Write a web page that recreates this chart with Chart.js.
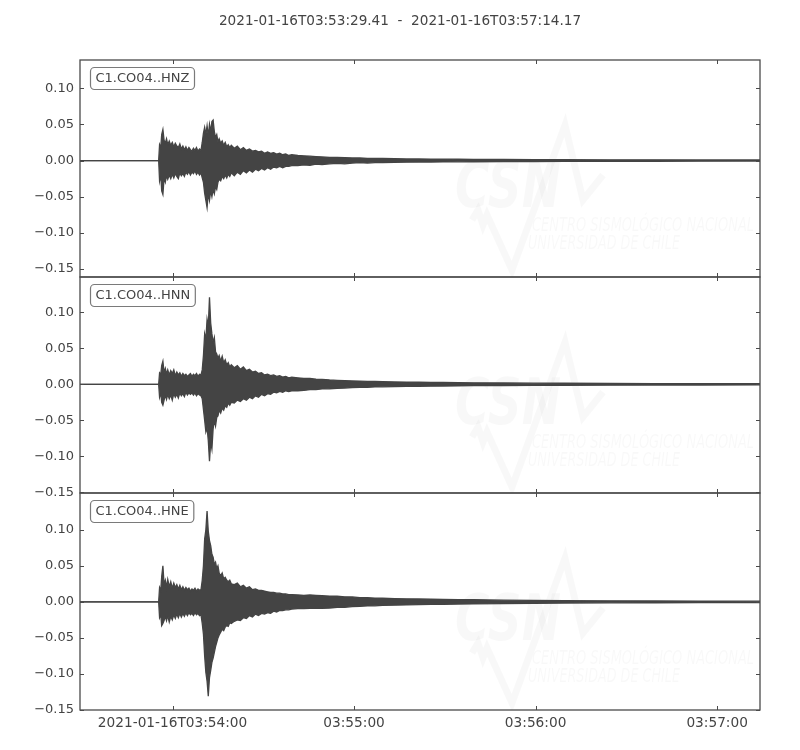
<!DOCTYPE html>
<html>
<head>
<meta charset="utf-8">
<script src="https://cdn.jsdelivr.net/npm/chart.js@4.4.1/dist/chart.umd.min.js"></script>
<style>
  html, body { margin: 0; padding: 0; background: #fff; }
  #wrap { position: relative; width: 800px; height: 750px; }
  #wrap canvas { position: absolute; left: 0; top: 0; }
</style>
</head>
<body>
<div id="wrap">
  <canvas id="c0" width="800" height="750"></canvas>
  <canvas id="c1" width="800" height="750"></canvas>
  <canvas id="c2" width="800" height="750"></canvas>
</div>
<script>
// ---- Data ----
const titleText = '2021-01-16T03:53:29.41  -  2021-01-16T03:57:14.17';
const channelLabels = ['C1.CO04..HNZ', 'C1.CO04..HNN', 'C1.CO04..HNE'];
const traceDuration = 224.76; // seconds after 03:53:29.41

// seconds after the start time
const times = [0,
  26.0, 26.3, 26.7, 27.0, 27.4, 27.8, 28.2, 28.6, 29.0, 29.5, 30.0, 30.5, 31.0, 31.5, 32.0, 32.5, 33.0, 33.5, 34.0, 34.5, 35.0, 35.5, 36.0, 36.5, 37.0, 37.5, 38.0, 38.5, 39.0, 39.5, 40.0,
  40.4, 40.8, 41.2, 41.6, 42.0, 42.4, 42.8, 43.2, 43.6, 44.0, 44.4, 44.8, 45.2, 45.6, 46.0,
  46.5, 47.0, 47.5, 48.0, 48.5, 49.0, 49.5, 50.0,
  51, 52, 53, 54, 55, 56, 57, 58, 59, 60, 61, 62, 63, 64, 65, 66, 67, 68, 69, 70,
  72, 74, 76, 78, 80, 82.5, 85, 87.5, 90, 92.5, 95, 97.5, 100,
  104, 108, 112, 116, 120, 125, 130, 140, 150, 160, 175, 190, 205, 224.76];

// envelope maxima / minima of each trace (same layout as times)
const hnzUpper = [0,
  0, 0.022, 0.018, 0.036, 0.043, 0.028, 0.024, 0.030, 0.022, 0.027, 0.021, 0.025, 0.019, 0.024, 0.020, 0.018, 0.023, 0.016, 0.020, 0.015, 0.019, 0.014, 0.018, 0.015, 0.013, 0.017, 0.014, 0.018, 0.013, 0.016, 0.014,
  0.025, 0.038, 0.046, 0.036, 0.048, 0.034, 0.050, 0.040, 0.054, 0.056, 0.040, 0.032, 0.036, 0.026, 0.030,
  0.024, 0.027, 0.021, 0.025, 0.019, 0.022, 0.018, 0.021,
  0.017, 0.020, 0.015, 0.018, 0.014, 0.016, 0.013, 0.014, 0.012, 0.013, 0.010, 0.012, 0.010, 0.011, 0.009, 0.010, 0.008, 0.009, 0.007, 0.008,
  0.007, 0.0065, 0.006, 0.0055, 0.005, 0.0045, 0.0045, 0.004, 0.0035, 0.0035, 0.003, 0.003, 0.0028,
  0.0025, 0.0023, 0.0022, 0.002, 0.002, 0.0018, 0.0017, 0.0015, 0.0013, 0.0012, 0.001, 0.001, 0.0009, 0.0008];
const hnzLower = [0,
  0, -0.028, -0.020, -0.042, -0.047, -0.024, -0.030, -0.021, -0.026, -0.020, -0.025, -0.019, -0.024, -0.018, -0.022, -0.025, -0.017, -0.021, -0.018, -0.022, -0.016, -0.019, -0.015, -0.020, -0.016, -0.018, -0.014, -0.019, -0.016, -0.020, -0.017,
  -0.024, -0.030, -0.045, -0.055, -0.065, -0.045, -0.055, -0.042, -0.050, -0.040, -0.046, -0.036, -0.040, -0.030, -0.026,
  -0.028, -0.022, -0.025, -0.020, -0.024, -0.019, -0.022, -0.017,
  -0.021, -0.016, -0.019, -0.014, -0.017, -0.013, -0.016, -0.012, -0.014, -0.011, -0.013, -0.010, -0.012, -0.009, -0.010, -0.008, -0.010, -0.008, -0.008, -0.007,
  -0.007, -0.006, -0.0065, -0.005, -0.0055, -0.0045, -0.004, -0.0045, -0.0035, -0.003, -0.0035, -0.0028, -0.003,
  -0.0025, -0.0023, -0.002, -0.0021, -0.0019, -0.0018, -0.0017, -0.0015, -0.0013, -0.0012, -0.001, -0.001, -0.0009, -0.0008];

const hnnUpper = [0,
  0, 0.016, 0.014, 0.026, 0.032, 0.016, 0.022, 0.014, 0.020, 0.013, 0.019, 0.015, 0.020, 0.012, 0.017, 0.013, 0.016, 0.011, 0.015, 0.012, 0.014, 0.011, 0.013, 0.015, 0.011, 0.014, 0.012, 0.015, 0.011, 0.014, 0.013,
  0.020, 0.040, 0.070, 0.062, 0.090, 0.080, 0.121, 0.085, 0.070, 0.058, 0.065, 0.045, 0.042, 0.036, 0.040,
  0.032, 0.039, 0.030, 0.034, 0.027, 0.030, 0.024, 0.027,
  0.023, 0.026, 0.021, 0.024, 0.019, 0.021, 0.017, 0.018, 0.015, 0.016, 0.013, 0.014, 0.012, 0.013, 0.011, 0.012, 0.010, 0.011, 0.009, 0.010,
  0.009, 0.008, 0.008, 0.007, 0.0068, 0.006, 0.0055, 0.005, 0.0047, 0.0045, 0.004, 0.0039, 0.0036,
  0.0033, 0.003, 0.0028, 0.0026, 0.0025, 0.0023, 0.002, 0.0018, 0.0016, 0.0014, 0.0012, 0.001, 0.001, 0.0009];
const hnnLower = [0,
  0, -0.018, -0.012, -0.025, -0.029, -0.022, -0.015, -0.021, -0.014, -0.020, -0.015, -0.022, -0.013, -0.018, -0.014, -0.019, -0.012, -0.016, -0.013, -0.017, -0.011, -0.015, -0.012, -0.014, -0.012, -0.015, -0.012, -0.016, -0.013, -0.015, -0.016,
  -0.020, -0.035, -0.050, -0.066, -0.060, -0.078, -0.107, -0.080, -0.090, -0.062, -0.050, -0.058, -0.046, -0.044, -0.036,
  -0.040, -0.033, -0.036, -0.030, -0.032, -0.026, -0.029, -0.025,
  -0.026, -0.022, -0.024, -0.020, -0.022, -0.018, -0.020, -0.016, -0.018, -0.014, -0.016, -0.013, -0.014, -0.011, -0.012, -0.010, -0.011, -0.009, -0.010, -0.009,
  -0.009, -0.0085, -0.0075, -0.0075, -0.0065, -0.0062, -0.0055, -0.0052, -0.0045, -0.0043, -0.0042, -0.0037, -0.0036,
  -0.0033, -0.003, -0.0028, -0.0026, -0.0025, -0.0023, -0.002, -0.0018, -0.0016, -0.0014, -0.0012, -0.001, -0.001, -0.0009];

const hneUpper = [0,
  0, 0.020, 0.016, 0.035, 0.050, 0.024, 0.030, 0.020, 0.031, 0.021, 0.028, 0.019, 0.026, 0.020, 0.024, 0.018, 0.023, 0.017, 0.021, 0.016, 0.020, 0.017, 0.019, 0.015, 0.018, 0.016, 0.019, 0.015, 0.018, 0.016, 0.017,
  0.030, 0.050, 0.087, 0.100, 0.126, 0.098, 0.085, 0.078, 0.066, 0.062, 0.052, 0.055, 0.046, 0.050, 0.040,
  0.036, 0.040, 0.032, 0.034, 0.030, 0.028, 0.030, 0.025,
  0.024, 0.026, 0.021, 0.023, 0.019, 0.021, 0.017, 0.018, 0.016, 0.016, 0.015, 0.014, 0.013, 0.013, 0.012, 0.012, 0.011, 0.011, 0.010, 0.010,
  0.0095, 0.009, 0.0095, 0.009, 0.0085, 0.008, 0.008, 0.007, 0.0068, 0.006, 0.0058, 0.0052, 0.005,
  0.0046, 0.0042, 0.004, 0.0036, 0.0034, 0.0031, 0.0029, 0.0024, 0.002, 0.0017, 0.0014, 0.0012, 0.0011, 0.001];
const hneLower = [0,
  0, -0.022, -0.018, -0.033, -0.030, -0.026, -0.020, -0.026, -0.019, -0.028, -0.020, -0.025, -0.018, -0.023, -0.017, -0.022, -0.016, -0.021, -0.016, -0.020, -0.015, -0.019, -0.015, -0.018, -0.016, -0.019, -0.015, -0.018, -0.016, -0.019, -0.018,
  -0.030, -0.045, -0.075, -0.098, -0.110, -0.131, -0.105, -0.095, -0.084, -0.078, -0.070, -0.062, -0.056, -0.050, -0.046,
  -0.042, -0.038, -0.040, -0.035, -0.033, -0.034, -0.029, -0.030,
  -0.027, -0.025, -0.026, -0.022, -0.023, -0.019, -0.021, -0.017, -0.019, -0.016, -0.017, -0.015, -0.016, -0.013, -0.014, -0.012, -0.012, -0.011, -0.011, -0.010,
  -0.0095, -0.0095, -0.009, -0.009, -0.009, -0.0085, -0.0075, -0.0075, -0.0065, -0.0062, -0.0056, -0.0055, -0.005,
  -0.0046, -0.0042, -0.0038, -0.0036, -0.0034, -0.0031, -0.0029, -0.0024, -0.002, -0.0017, -0.0014, -0.0012, -0.0011, -0.001];

const upperSeries = [hnzUpper, hnnUpper, hneUpper];
const lowerSeries = [hnzLower, hnnLower, hneLower];

// axes
const yTicks = [-0.15, -0.10, -0.05, 0.00, 0.05, 0.10];
const yMin = [-0.161, -0.151, -0.150];
const yMax = [0.139, 0.149, 0.151];
const xTickTimes = [30.59, 90.59, 150.59, 210.59];
const xTickLabels = ['2021-01-16T03:54:00', '03:55:00', '03:56:00', '03:57:00'];

// ---- Layout (page geometry, not data) ----
const panelTops = [60, 277, 493];
const panelBottoms = [277, 493, 710];
const FONT = "'DejaVu Sans', 'Liberation Sans', sans-serif";
const TEXT = '#444444';
const TRACE = '#444444';
const FRAME = '#4a4a4a';

function squeezedText(ctx, text, x, y, targetWidth) {
  const w = ctx.measureText(text).width;
  ctx.save();
  ctx.translate(x, y);
  ctx.scale(targetWidth / w, 1);
  ctx.fillText(text, 0, 0);
  ctx.restore();
}

const decorPlugin = {
  id: 'decor',
  beforeDatasetsDraw(chart) {
    // faint CSN watermark
    const ctx = chart.ctx;
    const a = chart.chartArea;
    const L = a.left, T = a.top;
    ctx.save();
    ctx.beginPath();
    ctx.rect(a.left, a.top, a.right - a.left, a.bottom - a.top);
    ctx.clip();
    ctx.fillStyle = 'rgba(0,0,0,0.028)';
    ctx.strokeStyle = 'rgba(0,0,0,0.028)';
    ctx.textBaseline = 'alphabetic';
    ctx.textAlign = 'left';
    ctx.font = "italic bold 64px 'DejaVu Sans', sans-serif";
    squeezedText(ctx, 'CSN', L + 375, T + 147, 106);
    ctx.lineWidth = 7;
    ctx.lineJoin = 'miter';
    ctx.beginPath();
    ctx.moveTo(L + 392, T + 160);
    ctx.lineTo(L + 398, T + 150);
    ctx.lineTo(L + 403, T + 165);
    ctx.lineTo(L + 407, T + 155);
    ctx.lineTo(L + 432, T + 210);
    ctx.lineTo(L + 485, T + 65);
    ctx.lineTo(L + 503, T + 140);
    ctx.lineTo(L + 523, T + 115);
    ctx.stroke();
    ctx.font = "italic 20px 'DejaVu Sans', sans-serif";
    squeezedText(ctx, 'CENTRO SISMOLÓGICO NACIONAL', L + 452, T + 171, 222);
    squeezedText(ctx, 'UNIVERSIDAD DE CHILE', L + 448, T + 189, 152);
    ctx.restore();
  },
  afterDraw(chart, args, opts) {
    const ctx = chart.ctx;
    const a = chart.chartArea;
    const xs = chart.scales.x, ys = chart.scales.y;
    ctx.save();
    // inward tick marks on all four sides
    ctx.strokeStyle = FRAME;
    ctx.lineWidth = 1;
    ctx.beginPath();
    xTickTimes.forEach(t => {
      const px = Math.round(xs.getPixelForValue(t)) + 0.5;
      ctx.moveTo(px, a.bottom); ctx.lineTo(px, a.bottom - 4);
      ctx.moveTo(px, a.top); ctx.lineTo(px, a.top + 4);
    });
    yTicks.forEach(v => {
      if (v < ys.min || v > ys.max) return;
      const py = Math.round(ys.getPixelForValue(v)) + 0.5;
      ctx.moveTo(a.left, py); ctx.lineTo(a.left + 4, py);
      ctx.moveTo(a.right, py); ctx.lineTo(a.right - 4, py);
    });
    ctx.stroke();
    // frame
    ctx.lineWidth = 1.3;
    ctx.strokeRect(a.left, a.top, a.right - a.left, a.bottom - a.top);
    // channel label box
    ctx.font = '13px ' + FONT;
    const label = opts.label;
    const w = ctx.measureText(label).width + 10;
    const bx = a.left + 10.5, by = a.top + 7.5, bh = 22;
    ctx.beginPath();
    ctx.roundRect(bx, by, w, bh, 4);
    ctx.fillStyle = '#ffffff';
    ctx.fill();
    ctx.strokeStyle = '#7a7a7a';
    ctx.lineWidth = 1.2;
    ctx.stroke();
    ctx.fillStyle = TEXT;
    ctx.textBaseline = 'middle';
    ctx.textAlign = 'left';
    ctx.fillText(label, bx + 5, by + bh / 2 + 0.5);
    // figure title
    if (opts.title) {
      ctx.font = '13.6px ' + FONT;
      ctx.textAlign = 'center';
      ctx.textBaseline = 'middle';
      ctx.fillText(opts.title, 400, 21);
    }
    ctx.restore();
  }
};

function makePanel(i) {
  const isLast = i === 2;
  const up = upperSeries[i], lo = lowerSeries[i];
  const upperData = times.map((t, k) => ({ x: t, y: up[k] }));
  const lowerData = times.map((t, k) => ({ x: t, y: lo[k] }));
  const xAxisH = isLast ? 30 : 0;
  return new Chart(document.getElementById('c' + i), {
    type: 'line',
    data: {
      datasets: [
        { data: upperData, borderColor: TRACE, backgroundColor: TRACE, borderWidth: 1.3,
          pointRadius: 0, tension: 0, fill: '+1' },
        { data: lowerData, borderColor: TRACE, backgroundColor: TRACE, borderWidth: 1.3,
          pointRadius: 0, tension: 0, fill: false }
      ]
    },
    options: {
      responsive: false,
      animation: false,
      devicePixelRatio: 1,
      events: [],
      layout: { padding: { left: 0, right: 40, top: panelTops[i], bottom: 750 - panelBottoms[i] - xAxisH } },
      plugins: {
        legend: { display: false },
        tooltip: { enabled: false },
        decor: { label: channelLabels[i], title: i === 0 ? titleText : null }
      },
      scales: {
        x: {
          type: 'linear',
          min: 0,
          max: traceDuration,
          grid: { display: false, drawTicks: false },
          border: { display: false },
          afterBuildTicks: s => { s.ticks = xTickTimes.map(v => ({ value: v })); },
          afterFit: s => { s.height = xAxisH; },
          ticks: {
            display: isLast,
            autoSkip: false,
            maxRotation: 0,
            padding: 5,
            color: TEXT,
            font: { family: FONT, size: 13.7 },
            callback: (v, idx) => xTickLabels[idx]
          }
        },
        y: {
          type: 'linear',
          min: yMin[i],
          max: yMax[i],
          grid: { display: false, drawTicks: false },
          border: { display: false },
          afterBuildTicks: s => { s.ticks = yTicks.filter(v => v >= s.min && v <= s.max).map(v => ({ value: v })); },
          afterFit: s => { s.width = 80; },
          ticks: {
            autoSkip: false,
            padding: 6,
            color: TEXT,
            font: { family: FONT, size: 13 },
            callback: v => (v < -1e-9 ? '\u2212' : '') + Math.abs(v).toFixed(2)
          }
        }
      }
    },
    plugins: [decorPlugin]
  });
}

[0, 1, 2].forEach(makePanel);
</script>
</body>
</html>
